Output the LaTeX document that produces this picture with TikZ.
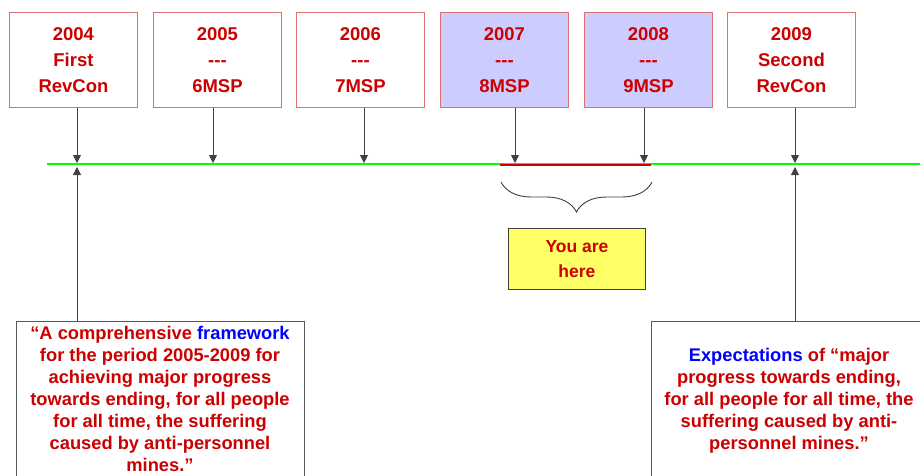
\documentclass[tikz,border=0pt]{standalone}
\usepackage{fontspec}
\setmainfont{Liberation Sans}
\usetikzlibrary{decorations.pathreplacing,arrows.meta}
\definecolor{dred}{HTML}{CC0000}
\definecolor{lred}{HTML}{E07070}
\definecolor{lblue}{HTML}{CCCCFF}
\definecolor{yel}{HTML}{FFFF66}
\definecolor{bl}{HTML}{0000FF}
\definecolor{grn}{HTML}{00FF00}
\newcommand{\dsh}{{-}{-}{-}}
\begin{document}
\begin{tikzpicture}[x=1pt,y=-1pt,
  yearbox/.style={draw=lred,line width=0.9pt,minimum width=128pt,minimum height=95pt,anchor=north west,
    align=center,font=\fontsize{18.5}{26}\selectfont\bfseries,text=dred,inner sep=0pt},
  conn/.style={draw=black!75,line width=0.9pt,-{Triangle[length=8pt,width=8pt]}},
  quote/.style={draw=black!65,line width=1pt,anchor=north west,inner sep=0pt},
  qtext/.style={font=\fontsize{18.3}{22}\selectfont\bfseries,text=dred,align=center,anchor=north,inner sep=0pt}]
\useasboundingbox (0,0) rectangle (920,475);
\fill[white] (0,0) rectangle (920,475);
\node[yearbox] (b1) at (9,12) {2004\\First\\RevCon};
\node[yearbox] (b2) at (153,12) {2005\\\dsh\\6MSP};
\node[yearbox] (b3) at (296,12) {2006\\\dsh\\7MSP};
\node[yearbox,fill=lblue] (b4) at (440,12) {2007\\\dsh\\8MSP};
\node[yearbox,fill=lblue] (b5) at (584,12) {2008\\\dsh\\9MSP};
\node[yearbox] (b6) at (727,12) {2009\\Second\\RevCon};
% timeline
\coordinate (tl0) at (47,164);
\coordinate (tl1) at (925,164);
\draw[grn,line width=1.5pt] (tl0) -- (tl1);
\coordinate (r0) at (500,165);
\coordinate (r1) at (651,165);
\draw[dred,line width=2.2pt] (r0) -- (r1);
% arrow targets
\coordinate (t1) at (77,163);
\coordinate (t2) at (213,163);
\coordinate (t3) at (364,163);
\coordinate (t4) at (515,163);
\coordinate (t5) at (644,163);
\coordinate (t6) at (795,163);
\draw[conn] (b1.south -| t1) -- (t1);
\draw[conn] (b2.south -| t2) -- (t2);
\draw[conn] (b3.south -| t3) -- (t3);
\draw[conn] (b4.south -| t4) -- (t4);
\draw[conn] (b5.south -| t5) -- (t5);
\draw[conn] (b6.south -| t6) -- (t6);
% brace
\coordinate (br0) at (652,182);
\coordinate (br1) at (501,182);
\draw[black!75,line width=0.9pt,decorate,decoration={brace,amplitude=30pt,aspect=0.5}] (br0) -- (br1);
\node[draw=black!75,line width=0.9pt,fill=yel,anchor=north west,minimum width=137pt,minimum height=61pt,
  align=center,font=\fontsize{17.5}{25}\selectfont\bfseries,text=dred,inner sep=0pt] (here) at (508,228) {You are\\here};
% bottom quotes
\node[quote,minimum width=288pt,minimum height=180pt] (q1) at (16,321) {};
\node[qtext] (q1t) at (160,326)
  {``A comprehensive \textcolor{bl}{framework}\\for the period 2005-2009 for\\achieving major progress\\towards ending, for all people\\for all time, the suffering\\caused by anti-personnel\\mines.''};
\node[quote,minimum width=300pt,minimum height=180pt] (q2) at (651,321) {};
\node[qtext] (q2t) at (789,348)
  {\textcolor{bl}{Expectations} of ``major\\progress towards ending,\\for all people for all time, the\\suffering caused by anti-\\personnel mines.''};
\coordinate (u1) at (77,167);
\coordinate (u6) at (795,167);
\draw[conn] (q1.north -| u1) -- (u1);
\draw[conn] (q2.north -| u6) -- (u6);
\end{tikzpicture}
\end{document}
